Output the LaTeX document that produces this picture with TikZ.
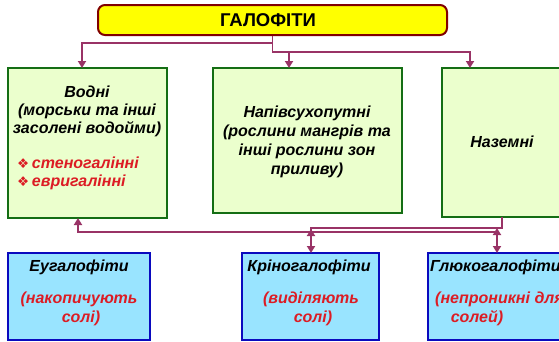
\documentclass[tikz,border=0pt]{standalone}
\usepackage{fontspec}
\setmainfont{Liberation Sans}
\newfontfamily\symfont{DejaVu Sans}
\usetikzlibrary{arrows.meta}
\definecolor{linkc}{RGB}{153,51,102}
\definecolor{titlefill}{RGB}{255,255,0}
\definecolor{titleedge}{RGB}{128,0,0}
\definecolor{greenfill}{RGB}{235,255,205}
\definecolor{greenedge}{RGB}{20,110,20}
\definecolor{bluefill}{RGB}{153,228,255}
\definecolor{blueedge}{RGB}{10,10,190}
\definecolor{redtxt}{RGB}{220,28,36}
\begin{document}
\begin{tikzpicture}[x=1pt,y=-1pt,
  titlebox/.style={draw=titleedge, fill=titlefill, line width=2pt, rounded corners=7pt,
    minimum width=349pt, minimum height=30pt, inner sep=0pt},
  titletext/.style={inner sep=0pt, font=\fontsize{18.5}{21}\selectfont\bfseries},
  groupbox/.style={draw=greenedge, fill=greenfill, line width=2.5pt, inner sep=0pt},
  typebox/.style={draw=blueedge, fill=bluefill, line width=2.5pt, inner sep=0pt},
  lbl/.style={inner sep=0pt, font=\fontsize{16}{19}\selectfont\bfseries\itshape},
  redlbl/.style={lbl, text=redtxt},
  link/.style={draw=linkc, line width=1.9pt},
  tip/.style={-{Triangle[length=7pt,width=8pt]}},
  twotip/.style={{Triangle[length=7pt,width=8pt]}-{Triangle[length=7pt,width=8pt]}}
]
\useasboundingbox (0,0) rectangle (559,341);
\clip (0,0) rectangle (559,341);
\fill[white] (0,0) rectangle (559,341);

% heading
\node[titlebox] (title) at (272.5,20) {};
\node[titletext] (titlelbl) at (268,20) {ГАЛОФІТИ};

% habitat groups
\node[groupbox, minimum width=159pt, minimum height=150pt] (vodni) at (87.5,143) {};
\node[groupbox, minimum width=189pt, minimum height=145pt] (napiv) at (307.5,140.5) {};
\node[groupbox, minimum width=120pt, minimum height=149pt] (nazem) at (502,142.5) {};

% salt-handling types
\node[typebox, minimum width=142pt, minimum height=87pt] (eug) at (79,296.5) {};
\node[typebox, minimum width=137pt, minimum height=87pt] (kryno) at (310.5,296.5) {};
\node[typebox, minimum width=138pt, minimum height=87pt] (glyuko) at (497,296.5) {};

% texts of the groups
\node[lbl] (v1) at (87,92) {Водні};
\node[lbl] (v2) at (87,111) {(морськи та інші};
\node[lbl] (v3) at (87,129) {засолені водойми)};
\node[redlbl, anchor=west] (v4) at (17,163) {{\symfont\fontsize{13.5}{15}\selectfont ❖}\,стеногалінні};
\node[redlbl, anchor=west] (v5) at (17,182) {{\symfont\fontsize{13.5}{15}\selectfont ❖}\,евригалінні};

\node[lbl] (n1) at (307,113) {Напівсухопутні};
\node[lbl] (n2) at (307,132) {(рослини мангрів та};
\node[lbl] (n3) at (307,151) {інші рослини зон};
\node[lbl] (n4) at (307,170) {приливу)};

\node[lbl] (z1) at (502,142) {Наземні};

% texts of the types
\node[lbl] (e1) at (79,267) {Еугалофіти};
\node[redlbl] (e2) at (79,299) {(накопичують};
\node[redlbl] (e3) at (81,318) {солі)};

\node[lbl] (k1) at (309,267) {Кріногалофіти};
\node[redlbl] (k2) at (311,299) {(виділяють};
\node[redlbl] (k3) at (313,318) {солі)};

\node[lbl, anchor=west] (g1) at (430,267) {Глюкогалофіти};
\node[redlbl, anchor=west] (g2) at (435,299) {(непроникні для};
\node[redlbl] (g3) at (477,318) {солей)};

% landing points of the connectors
\coordinate (vIn)  at (82,68);
\coordinate (nIn)  at (289,68);
\coordinate (zIn)  at (470,68);
\coordinate (fork) at (289,52);
\coordinate (vOut) at (78,218);
\coordinate (zOut) at (502,217);
\coordinate (kIn)  at (311,253);
\coordinate (gIn)  at (497,253);

% heading to groups
\draw[link, tip] (title.south) |- (82,43) -- (vIn);
\draw[link, tip] (title.south) |- (470,52) -- (zIn);
\draw[link, tip] (fork) -- (nIn);

% groups to types
\draw[link, tip] (zOut) |- (311,228) -- (kIn);
\draw[link, twotip] (vOut) |- (497,232) -- (gIn);
\draw[link, tip] (311,239) -- (311,229);
\draw[link, tip] (497,239) -- (497,228);
\end{tikzpicture}
\end{document}
